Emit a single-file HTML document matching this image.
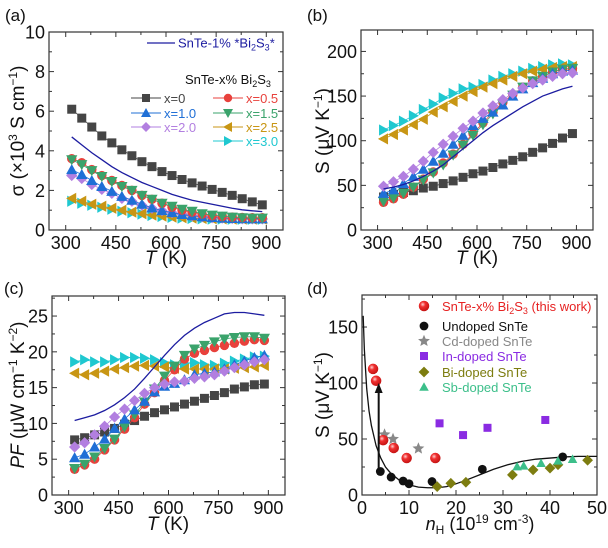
<!DOCTYPE html>
<html><head><meta charset="utf-8"><style>
body{margin:0;background:#fff;}
svg{display:block;font-family:"Liberation Sans",sans-serif;}
</style></head><body>
<svg id="fig" width="608" height="548" viewBox="0 0 608 548" xmlns="http://www.w3.org/2000/svg">
<defs><radialGradient id="sph" cx="0.38" cy="0.35" r="0.7"><stop offset="0" stop-color="#ffd0d0"/><stop offset="0.35" stop-color="#f03030"/><stop offset="1" stop-color="#c01010"/></radialGradient></defs>
</svg>
<script>
const T = [318,348,378,408,438,468,498,528,558,588,618,648,678,708,738,768,798,828,858,888];
const seriesNames = ["x=0","x=0.5","x=1.0","x=1.5","x=2.0","x=2.5","x=3.0"];
const sig0 = [6.1,5.65,5.2,4.75,4.4,4.05,3.75,3.45,3.2,2.95,2.75,2.55,2.38,2.22,2.05,1.9,1.75,1.58,1.42,1.27];
const sig05 = [3.6,3.4,3.05,2.75,2.5,2.25,2.0,1.75,1.55,1.35,1.15,1.0,0.9,0.8,0.72,0.68,0.65,0.63,0.62,0.62];
const sig10 = [3.05,2.8,2.5,2.2,1.95,1.7,1.5,1.3,1.12,0.98,0.88,0.78,0.72,0.67,0.63,0.6,0.58,0.57,0.56,0.56];
const sig15 = [3.55,3.3,3.0,2.7,2.45,2.2,2.0,1.75,1.55,1.35,1.2,1.05,0.95,0.82,0.75,0.7,0.65,0.62,0.6,0.6];
const sig20 = [2.75,2.6,2.3,2.05,1.85,1.6,1.45,1.25,1.1,0.98,0.88,0.8,0.72,0.67,0.62,0.6,0.58,0.57,0.56,0.56];
const sig25 = [1.6,1.45,1.3,1.2,1.1,1.0,0.9,0.82,0.75,0.7,0.65,0.62,0.6,0.58,0.57,0.56,0.55,0.55,0.55,0.55];
const sig30 = [1.45,1.35,1.25,1.15,1.05,0.95,0.87,0.8,0.73,0.68,0.64,0.6,0.58,0.56,0.55,0.55,0.54,0.54,0.54,0.54];
const sigRef = [4.7,4.3,3.9,3.55,3.2,2.9,2.65,2.4,2.2,2.0,1.8,1.65,1.5,1.4,1.3,1.2,1.1,1.02,0.97,0.93];
const S0 = [37,40,42,44,47,49,52,55,59,63,66,70,74,78,82,87,92,97,103,108];
const S05 = [31,35,40,48,57,65,75,85,96,108,120,132,143,152,160,167,172,177,180,181];
const S10 = [41,45,52,60,68,77,86,96,106,117,125,132,140,150,158,165,170,175,178,179];
const S15 = [32,36,41,48,56,64,73,84,95,106,118,130,141,151,160,167,172,177,180,181];
const S20 = [49,54,60,68,77,87,96,105,114,122,131,139,146,153,159,164,168,172,175,176];
const S25 = [102,107,112,118,124,132,138,144,150,155,160,164,168,172,175,178,180,182,183,183];
const S30 = [112,117,122,128,135,141,148,153,158,160,163,168,172,175,178,181,183,185,186,185];
const SRef = [46,48,51,55,60,66,73,82,91,100,109,117,124,131,138,144,150,154,158,161];
const PF0 = [7.7,8.0,8.4,8.8,9.3,9.9,10.4,11.0,11.5,11.9,12.3,12.7,13.1,13.5,13.9,14.3,14.8,15.1,15.4,15.5];
const PF05 = [3.6,4.2,5.0,6.3,7.7,9.2,10.8,12.7,14.3,16.0,17.5,19.0,19.8,20.2,20.6,20.9,21.2,21.5,21.7,21.6];
const PF10 = [5.2,5.7,6.7,7.8,9.3,10.6,11.9,13.1,14.4,15.2,15.6,16.1,16.8,17.0,17.2,17.6,18.2,18.7,19.2,19.5];
const PF15 = [3.7,4.3,5.3,6.5,7.8,9.5,11.2,13.0,14.8,16.6,18.0,19.5,20.4,20.9,21.4,21.8,22.0,22.1,22.1,21.9];
const PF20 = [6.7,7.3,8.4,9.6,10.9,12.0,13.2,14.2,15.0,15.5,15.8,15.9,16.3,16.5,16.8,17.3,17.8,18.2,18.6,18.9];
const PF25 = [17.0,16.8,17.0,17.3,17.6,17.8,18.0,18.1,18.0,17.9,17.7,17.6,17.6,17.6,17.6,17.6,17.7,17.8,17.9,18.1];
const PF30 = [18.6,18.9,18.6,18.6,18.9,19.2,19.2,19.1,18.9,18.5,18.2,18.4,18.5,18.2,18.1,18.4,18.7,19.0,19.3,19.4];
const PFRef = [10.4,10.8,11.2,11.8,12.6,13.6,14.8,16.3,17.9,19.5,21.0,22.3,23.3,24.1,24.7,25.3,25.5,25.5,25.3,25.1];
const dRedN=[2.35,3.0,4.5,6.75,9.5,15.6], dRedS=[112.6,102,49,42,33,33];
const dUnN=[3.9,6.2,8.75,10,14.9,25.6,42.7], dUnS=[21,16,12.5,10,12,23,34];
const dCdN=[4.8,6.6,12], dCdS=[54,50,41.5];
const dInN=[16.5,21.5,26.7,39], dInS=[64,53.5,60,67];
const dBiN=[16,18.9,22.1,32,36.4,40,41.7,48], dBiS=[7.5,10.5,11.4,18,22.4,24,27,31];
const dSbN=[33,34.4,38.1,41.7,44.8], dSbS=[25.4,26,28.4,30.5,32];
const fitN=[0.25,0.5,1,1.5,2,3,4,5,6,8,10,12,14,16,18,20,22,25,28,31,34,37,40,43,46,50];
const fitS=[160,130,95,75,62,44,33,25,20,13,9,7,6.5,6.5,7.5,10,13,18,23,27,30,32,33,34,34.5,34.5];

const NS="http://www.w3.org/2000/svg";
const svg=document.getElementById('fig');
function mk(tag,attrs,parent){const e=document.createElementNS(NS,tag);for(const k in attrs)e.setAttribute(k,attrs[k]);(parent||svg).appendChild(e);return e;}
const colors=["#454545","#e8413c","#1f6fd6","#3aa36b","#b27fe0","#c89614","#1fc8d0"];
const shapes=["square","circle","up","down","diamond","left","right"];
const navy="#1c1ca0";

function marker(g,shape,x,y,r,fill){
  let e;
  if(shape==="square") e=mk('rect',{x:x-r,y:y-r,width:2*r,height:2*r,fill:fill},g);
  else if(shape==="circle") e=mk('circle',{cx:x,cy:y,r:r*1.05,fill:fill},g);
  else { let p;
    const a=r*1.25;
    if(shape==="up") p=[[x,y-a],[x+a,y+a*0.8],[x-a,y+a*0.8]];
    if(shape==="down") p=[[x,y+a],[x+a,y-a*0.8],[x-a,y-a*0.8]];
    if(shape==="left") p=[[x-a,y],[x+a*0.8,y-a],[x+a*0.8,y+a]];
    if(shape==="right") p=[[x+a,y],[x-a*0.8,y-a],[x-a*0.8,y+a]];
    if(shape==="diamond") p=[[x,y-a],[x+a,y],[x,y+a],[x-a,y]];
    if(shape==="star"){p=[];for(let i=0;i<10;i++){const rr=i%2?a*0.45:a;const t=-Math.PI/2+i*Math.PI/5;p.push([x+rr*Math.cos(t),y+rr*Math.sin(t)]);}}
    e=mk('polygon',{points:p.map(q=>q.join(',')).join(' '),fill:fill},g);
  }
  return e;
}

function axes(cfg){
  const g=mk('g',{});
  
  
  const {L,R,Tp,B,xmin,xmax,ymin,ymax}=cfg;
  const sx=v=>L+(v-xmin)/(xmax-xmin)*(R-L);
  const sy=v=>B-(v-ymin)/(ymax-ymin)*(B-Tp);
  const tk=mk('g',{stroke:"#333","stroke-width":1},g);
  
  
  for(let v=cfg.xt0;v<=xmax+1e-9;v+=cfg.xstep/2){
    const major=Math.abs(((v-cfg.xt0)/cfg.xstep)-Math.round((v-cfg.xt0)/cfg.xstep))<1e-6;
    const len=major?5:3;const x=sx(v);
    if(x<L-0.1||x>R+0.1)continue;
    mk('line',{x1:x,y1:B,x2:x,y2:B-len},tk);mk('line',{x1:x,y1:Tp,x2:x,y2:Tp+len},tk);
    if(major){const t=mk('text',{x:x,y:B+19,"font-size":18,"text-anchor":"middle",fill:"#111",stroke:"none"},g);t.textContent=v;
      }
  }
  for(let v=ymin;v<=ymax+1e-9;v+=cfg.ystep/2){
    const major=Math.abs((v/cfg.ystep)-Math.round(v/cfg.ystep))<1e-6;
    const len=major?5:3;const y=sy(v);
    mk('line',{x1:L,y1:y,x2:L+len,y2:y},tk);mk('line',{x1:R,y1:y,x2:R-len,y2:y},tk);
    if(major){const t=mk('text',{x:L-4,y:y+6.5,"font-size":18,"text-anchor":"end",fill:"#111",stroke:"none"},g);t.textContent=v;
      }
  }
  const fr=mk('rect',{x:L,y:Tp,width:R-L,height:B-Tp,fill:"none",stroke:"#333","stroke-width":1.2},g);
  
  return {g,sx,sy};
}

function series(ax,xs,ys,color,shape,name,r){
  const g=mk('g',{},ax.g);
  
  
  const pl=mk('polyline',{points:xs.map((x,i)=>ax.sx(x)+','+ax.sy(ys[i])).join(' '),fill:"none",stroke:color,"stroke-width":shape?0.8:1.3},g);
  
  
  if(shape) xs.forEach((x,i)=>{const m=marker(g,shape,ax.sx(x),ax.sy(ys[i]),r||4.5,color);
    
    });
}
function scatter(ax,xs,ys,color,shape,name,r){
  const g=mk('g',{},ax.g);
  
  
  xs.forEach((x,i)=>{const m=marker(g,shape,ax.sx(x),ax.sy(ys[i]),r,color);
    
    });
}
function text(x,y,s,opts,name){
  const t=mk('text',Object.assign({x:x,y:y,fill:"#111"},opts||{}));
  t.innerHTML=s;
  
  
  return t;
}

// Panel a
const A=axes({name:'panel-a',L:49,R:283,Tp:32,B:230,xmin:250,xmax:950,ymin:0,ymax:10,xt0:300,xstep:150,ystep:2});
const sigAll=[sig0,sig05,sig10,sig15,sig20,sig25,sig30];
series(A,T,sigRef,navy,null,'sigma-snte-1pct');
[6,5,4,2,1,3,0].forEach(i=>series(A,T,sigAll[i],colors[i],shapes[i],'sigma-'+seriesNames[i].replace('=','-')));
// Panel b
const Bx=axes({name:'panel-b',L:361,R:593,Tp:30,B:230,xmin:250,xmax:950,ymin:0,ymax:224,xt0:300,xstep:150,ystep:50});
const SAll=[S0,S05,S10,S15,S20,S25,S30];
[0,6,5,1,3,2,4].forEach(i=>series(Bx,T,SAll[i],colors[i],shapes[i],'seebeck-'+seriesNames[i].replace('=','-')));
series(Bx,T,SRef,navy,null,'seebeck-snte-1pct');
// Panel c
const C=axes({name:'panel-c',L:52,R:285,Tp:296,B:495,xmin:250,xmax:950,ymin:0,ymax:27.8,xt0:300,xstep:150,ystep:5});
const PFAll=[PF0,PF05,PF10,PF15,PF20,PF25,PF30];
[0,6,5,1,3,2,4].forEach(i=>series(C,T,PFAll[i],colors[i],shapes[i],'pf-'+seriesNames[i].replace('=','-')));
series(C,T,PFRef,navy,null,'pf-snte-1pct');
// Panel d
const D=axes({name:'panel-d',L:362,R:597,Tp:295,B:495,xmin:0,xmax:50,ymin:0,ymax:178.6,xt0:0,xstep:10,ystep:50});
series(D,fitN,fitS,"#111",null,'pisarenko-curve');
scatter(D,dUnN,dUnS,"#111",'circle','undoped-snte',4.2);
scatter(D,dCdN,dCdS,"#888",'star','cd-doped-snte',5);
scatter(D,dInN,dInS,"#8a2be2",'square','in-doped-snte',4);
scatter(D,dBiN,dBiS,"#7d7d10",'diamond','bi-doped-snte',4.3);
scatter(D,dSbN,dSbS,"#3cbf8a",'up','sb-doped-snte',3.8);
scatter(D,dRedN,dRedS,"url(#sph)",'circle','this-work',5);
// arrow
const ax1=D.sx(3.55), ay1=D.sy(20), ay2=D.sy(100);
const arr=mk('line',{x1:ax1,y1:ay1,x2:ax1,y2:ay2+6,stroke:"#111","stroke-width":2});

const ah=mk('polygon',{points:`${ax1},${ay2} ${ax1-4},${ay2+10} ${ax1+4},${ay2+10}`,fill:"#111"});


// panel labels
text(5,21,'(a)',{"font-size":17},'panel-label-a');
text(307,21,'(b)',{"font-size":17},'panel-label-b');
text(4,294,'(c)',{"font-size":17},'panel-label-c');
text(307,294,'(d)',{"font-size":17},'panel-label-d');
// axis titles
text(166,264,'<tspan font-style="italic">T</tspan> (K)',{"font-size":19,"text-anchor":"middle"},'x-axis-title-a');
text(477,264,'<tspan font-style="italic">T</tspan> (K)',{"font-size":19,"text-anchor":"middle"},'x-axis-title-b');
text(168,530,'<tspan font-style="italic">T</tspan> (K)',{"font-size":19,"text-anchor":"middle"},'x-axis-title-c');
text(480,530,'<tspan font-style="italic">n</tspan><tspan font-size="12" dy="4">H</tspan><tspan dy="-4"> (10</tspan><tspan font-size="12" dy="-7">19</tspan><tspan dy="7"> cm</tspan><tspan font-size="12" dy="-7">-3</tspan><tspan dy="7">)</tspan>',{"font-size":18,"text-anchor":"middle"},'x-axis-title-d');
text(0,0,'σ (×10<tspan font-size="12" dy="-7">3</tspan><tspan dy="7"> S cm</tspan><tspan font-size="12" dy="-7">−1</tspan><tspan dy="7">)</tspan>',{"font-size":19,"text-anchor":"middle",transform:"translate(24,131) rotate(-90)"},'y-axis-title-a');
text(0,0,'S (μV K<tspan font-size="12" dy="-7">−1</tspan><tspan dy="7">)</tspan>',{"font-size":19,"text-anchor":"middle",transform:"translate(329,131) rotate(-90)"},'y-axis-title-b');
text(0,0,'<tspan font-style="italic">PF</tspan> (μW cm<tspan font-size="12" dy="-7">−1</tspan><tspan dy="7"> K</tspan><tspan font-size="12" dy="-7">−2</tspan><tspan dy="7">)</tspan>',{"font-size":19,"text-anchor":"middle",transform:"translate(24,395) rotate(-90)"},'y-axis-title-c');
text(0,0,'S (μV K<tspan font-size="12" dy="-7">−1</tspan><tspan dy="7">)</tspan>',{"font-size":19,"text-anchor":"middle",transform:"translate(329,395) rotate(-90)"},'y-axis-title-d');

// legend a
const lg=mk('g',{});

const l1=mk('line',{x1:147,y1:43,x2:175,y2:43,stroke:navy,"stroke-width":1.3},lg);

text(178,47.5,'SnTe-1% *Bi<tspan font-size="9" dy="3">2</tspan><tspan dy="-3">S</tspan><tspan font-size="9" dy="3">3</tspan><tspan dy="-3">*</tspan>',{"font-size":13,fill:navy},'legend-ref-label');
text(185,84,'SnTe-x% Bi<tspan font-size="9" dy="3">2</tspan><tspan dy="-3">S</tspan><tspan font-size="9" dy="3">3</tspan>',{"font-size":13},'legend-title');
const pos=[[131,98],[213,98],[131,113],[213,113],[131,127],[213,127],[213,141]];
pos.forEach((p,i)=>{
  const ln=mk('line',{x1:p[0],y1:p[1],x2:p[0]+30,y2:p[1],stroke:colors[i],"stroke-width":1},lg);
  
  const m=marker(lg,shapes[i],p[0]+15,p[1],4,colors[i]);
  
  text(p[0]+33,p[1]+5,seriesNames[i],{"font-size":13,fill:colors[i]},'legend-entry');
});
// legend d
const ld=[["SnTe-x% Bi<tspan font-size='9' dy='3'>2</tspan><tspan dy='-3'>S</tspan><tspan font-size='9' dy='3'>3</tspan><tspan dy='-3'> (this work)</tspan>","#e62222",'circle',5,"url(#sph)"],
 ["Undoped SnTe","#111",'circle',4.2],["Cd-doped SnTe","#888",'star',5],["In-doped SnTe","#8a2be2",'square',4],
 ["Bi-doped SnTe","#7d7d10",'diamond',4.3],["Sb-doped SnTe","#3cbf8a",'up',3.8]];
const ldy=[306,326,341,356,372,387];
const lgd=mk('g',{});

ld.forEach((e,i)=>{
  const m=marker(lgd,e[2],424,ldy[i],e[3],e[4]||e[1]);
  
  text(442,ldy[i]+5,e[0],{"font-size":13,fill:e[1]},'legend-entry');
});
</script>
</body></html>
